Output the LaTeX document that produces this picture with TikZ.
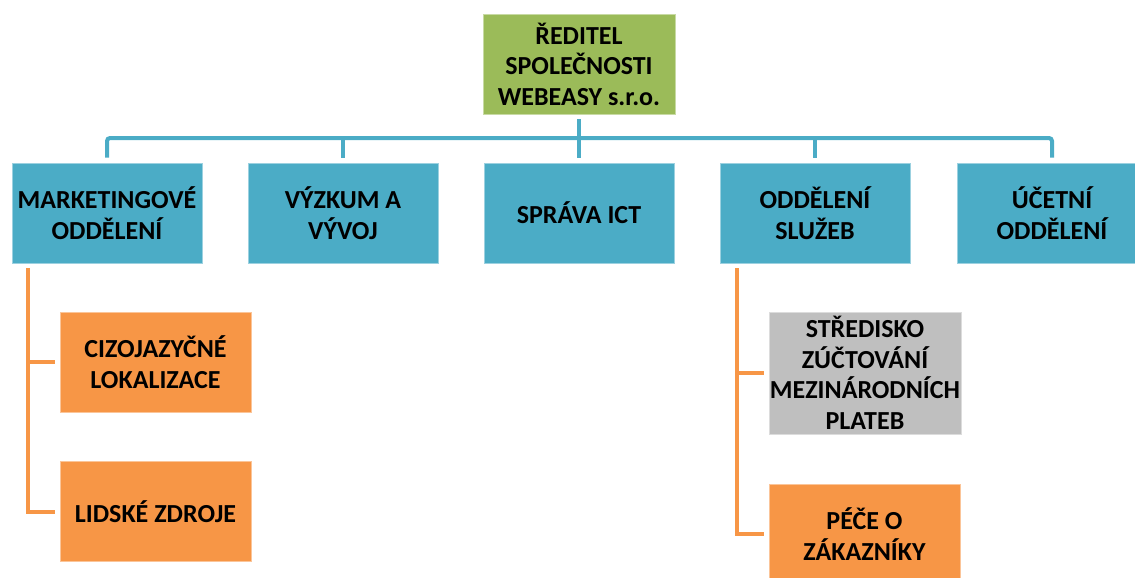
\documentclass[tikz,border=0pt]{standalone}
\usepackage{fontspec}
\setmainfont{Carlito}
\usetikzlibrary{calc}
\definecolor{headgreen}{HTML}{9BBB59}
\definecolor{deptblue}{HTML}{4BACC6}
\definecolor{unitorange}{HTML}{F79646}
\definecolor{unitgray}{HTML}{BFBFBF}
\tikzset{
  box/.style={rectangle, inner sep=1pt, align=center,
    font=\fontsize{26}{30.5}\selectfont\bfseries, text=black,
    minimum width=190pt, minimum height=100pt, line width=0.8pt},
  headbox/.style={box, fill=headgreen, draw=headgreen!55!white, minimum width=192pt},
  deptbox/.style={box, fill=deptblue, draw=deptblue!55!white},
  unitbox/.style={box, fill=unitorange, draw=unitorange!55!white, minimum width=191pt},
  graybox/.style={box, fill=unitgray, draw=unitgray!55!white, minimum width=192pt, minimum height=122pt},
  busline/.style={draw=deptblue, line width=4pt},
  subline/.style={draw=unitorange, line width=4pt}
}
\begin{document}
\begin{tikzpicture}[x=1pt, y=-1pt]
\useasboundingbox (0,0) rectangle (1135,578);
\clip (0,0) rectangle (1135,578);

% head of the company
\node[headbox] (top) at (579,64) {ŘEDITEL\\SPOLEČNOSTI\\WEBEASY s.r.o.};

% departments
\node[deptbox] (mkt) at (107,213) {MARKETINGOVÉ\\ODDĚLENÍ};
\node[deptbox] (vyv) at (343,213) {VÝZKUM A\\VÝVOJ};
\node[deptbox] (ict) at (579,213) {SPRÁVA ICT};
\node[deptbox] (slu) at (815,213) {ODDĚLENÍ\\SLUŽEB};
\node[deptbox] (uce) at (1052,213) {ÚČETNÍ\\ODDĚLENÍ};

% units under marketing
\node[unitbox] (loc) at (155.5,362) {CIZOJAZYČNÉ\\LOKALIZACE};
\node[unitbox] (hr)  at (155.5,511.5) {LIDSKÉ ZDROJE};

% units under services
\node[graybox] (pay) at (865,373) {STŘEDISKO\\ZÚČTOVÁNÍ\\MEZINÁRODNÍCH\\PLATEB};
\node[unitbox] (cust) at (864.5,534) {PÉČE O\\ZÁKAZNÍKY};

% bus connecting the departments
\coordinate (bus) at (579,138);
\draw[busline, shorten <=5pt, shorten >=5pt] (top.south) -- (ict.north);
\draw[busline, rounded corners=3pt, shorten <=5pt, shorten >=5pt]
  (mkt.north) |- (bus) -| (uce.north);
\draw[busline, shorten >=5pt] (vyv.north |- bus) -- (vyv.north);
\draw[busline, shorten >=5pt] (slu.north |- bus) -- (slu.north);

% branches to the units
\coordinate (mktdrop) at ($(mkt.south west)+(16,0)$);
\draw[subline, shorten <=5pt, shorten >=5pt] (mktdrop) |- (hr.west);
\draw[subline, shorten >=5pt] (mktdrop |- loc.west) -- (loc.west);

\coordinate (sludrop) at ($(slu.south west)+(17,0)$);
\draw[subline, shorten <=5pt, shorten >=5pt] (sludrop) |- (cust.west);
\draw[subline, shorten >=5pt] (sludrop |- pay.west) -- (pay.west);
\end{tikzpicture}
\end{document}
